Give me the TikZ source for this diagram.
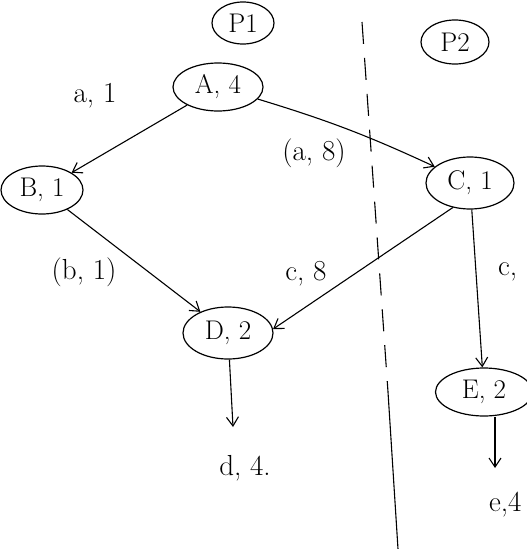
\documentclass[tikz,border=0pt]{standalone}
\usepackage{fontspec}
\usetikzlibrary{shapes.geometric,arrows.meta}
\begin{document}
\begin{tikzpicture}[x=1pt,y=-1pt,
  st/.style={ellipse,draw,line width=1.2pt,inner sep=0pt,font=\fontsize{27}{30}\selectfont},
  lbl/.style={font=\fontsize{29}{32}\selectfont,inner sep=1pt},
  conn/.style={line width=1.1pt,-{Straight Barb[length=9pt,width=12pt]}},
  sep/.style={line width=1.1pt,dash pattern=on 22pt off 14pt}]
\useasboundingbox (0,0) rectangle (527,549);
\node[st,minimum width=62,minimum height=42] (P1) at (243,23) {P1};
\node[st,minimum width=68,minimum height=44] (P2) at (455,42) {P2};
\node[st,minimum width=90,minimum height=48] (A) at (218,87) {A, 4};
\node[st,minimum width=82,minimum height=48] (B) at (42,190) {B, 1};
\node[st,minimum width=88,minimum height=52] (C) at (470,183) {C, 1};
\node[st,minimum width=90,minimum height=52] (D) at (228,333) {D, 2};
\node[st,minimum width=97,minimum height=48] (E) at (484,392) {E, 2};
\node[lbl] (la) at (95,96) {a, 1};
\node[lbl] (la8) at (314,153) {(a, 8)};
\node[lbl] (lb) at (84,272) {(b, 1)};
\node[lbl] (lc8) at (306,274) {c, 8};
\node[lbl,anchor=west] (lc) at (497,272) {c,};
\node[lbl] (d4) at (245,468) {d, 4.};
\node[lbl,anchor=west] (e4) at (488,505) {e,4};
\coordinate (dend) at (233,427);
\coordinate (eend) at (495,468);
\coordinate (s1) at (362,22);
\coordinate (sm) at (388,392);
\coordinate (s2) at (398,549);
\draw[sep] (s1) -- (sm);
\draw[line width=1.1pt] (sm) -- (s2);
\draw[conn] (A) -- (B);
\draw[conn] (A) to[bend left=4] (C);
\draw[conn] (B) -- (D);
\draw[conn] (C.235) -- (D.5);
\draw[conn] (C) -- (E);
\draw[conn] (D) -- (dend);
\draw[conn] (E.south -| eend) -- (eend);
\end{tikzpicture}
\end{document}
